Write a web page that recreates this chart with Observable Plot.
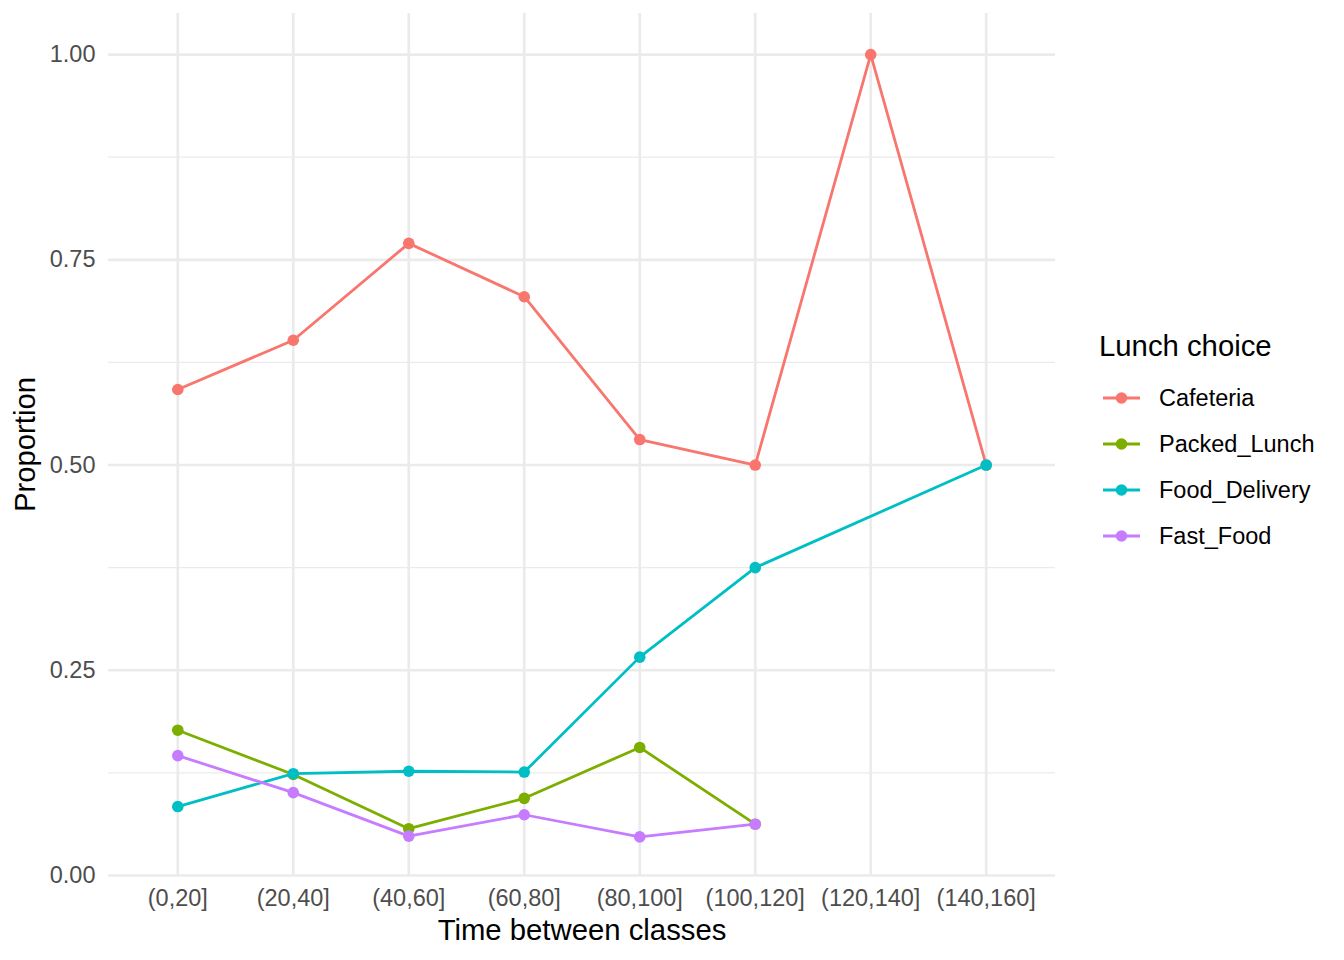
<!DOCTYPE html>
<html>
<head>
<meta charset="utf-8">
<script src="https://cdn.jsdelivr.net/npm/d3@7"></script>
<script src="https://cdn.jsdelivr.net/npm/@observablehq/plot@0.6"></script>
<style>
  html, body { margin: 0; padding: 0; background: #fff; }
  #wrap { position: relative; width: 1344px; height: 960px; font-family: "Liberation Sans", Arial, Helvetica, sans-serif; }
  #legend { position: absolute; left: 1099px; top: 328px; color: #000; }
  #legend .title { font-size: 29.3px; line-height: 36px; margin-bottom: 11px; }
  #legend .item { display: flex; align-items: center; height: 46px; }
  #legend .item span { font-size: 23.5px; margin-left: 18px; }
</style>
</head>
<body>
<div id="wrap"><div id="chart"></div><div id="legend"></div></div>
<script>
const categories = ["(0,20]", "(20,40]", "(40,60]", "(60,80]", "(80,100]", "(100,120]", "(120,140]", "(140,160]"];
const seriesNames = ["Cafeteria", "Packed_Lunch", "Food_Delivery", "Fast_Food"];
const seriesColors = ["#F8766D", "#7CAE00", "#00BFC4", "#C77CFF"];
const cafeteria    = [0.592, 0.652, 0.770, 0.705, 0.531, 0.500, 1.000, 0.500];
const packedLunch  = [0.177, 0.123, 0.057, 0.094, 0.156, 0.0625, null, null];
const foodDelivery = [0.084, 0.124, 0.127, 0.126, 0.266, 0.375, null, 0.500];
const fastFood     = [0.146, 0.101, 0.048, 0.074, 0.047, 0.0625, null, null];
const yTicks = [0, 0.25, 0.5, 0.75, 1];
const yMinorTicks = [0.125, 0.375, 0.625, 0.875];
const xTitle = "Time between classes";
const yTitle = "Proportion";
const legendTitle = "Lunch choice";

const seriesValues = [cafeteria, packedLunch, foodDelivery, fastFood];
const rows = [];
seriesNames.forEach((name, i) => {
  seriesValues[i].forEach((v, j) => {
    if (v !== null) rows.push({series: name, time: categories[j], value: v});
  });
});

const grid = "#EBEBEB";
const chart = Plot.plot({
  width: 1344,
  height: 960,
  marginLeft: 108,
  marginRight: 289,
  marginTop: 13,
  marginBottom: 85,
  style: {fontFamily: "'Liberation Sans', Arial, Helvetica, sans-serif", color: "#4D4D4D", background: "#fff"},
  x: {type: "point", domain: categories, padding: 0.6, round: false},
  y: {domain: [0, 1.05]},
  color: {domain: seriesNames, range: seriesColors},
  marks: [
    Plot.ruleY(yMinorTicks, {stroke: grid, strokeWidth: 1.4}),
    Plot.ruleY(yTicks, {stroke: grid, strokeWidth: 2.7}),
    Plot.ruleX(categories, {stroke: grid, strokeWidth: 2.7}),
    Plot.axisY({ticks: yTicks, tickFormat: d3.format(".2f"), tickSize: 0, tickPadding: 13, fontSize: 23.5, label: null}),
    Plot.axisX({tickSize: 0, tickPadding: 14, fontSize: 23.5, label: null}),
    Plot.line(rows, {x: "time", y: "value", z: "series", stroke: "series", strokeWidth: 2.8}),
    Plot.dot(rows, {x: "time", y: "value", fill: "series", r: 5.8, stroke: null}),
    Plot.text([xTitle], {frameAnchor: "bottom", lineAnchor: "top", textAnchor: "middle", dy: 44, fontSize: 29.3, fill: "#000", text: d => d}),
    Plot.text([yTitle], {frameAnchor: "left", lineAnchor: "top", textAnchor: "middle", rotate: -90, dx: -94, fontSize: 29.3, fill: "#000", text: d => d})
  ]
});
document.getElementById("chart").appendChild(chart);

// Legend
const legend = document.getElementById("legend");
const t = document.createElement("div");
t.className = "title";
t.textContent = legendTitle;
legend.appendChild(t);
seriesNames.forEach((name, i) => {
  const item = document.createElement("div");
  item.className = "item";
  item.innerHTML = `<svg width="42" height="46"><line x1="4" x2="41" y1="23" y2="23" stroke="${seriesColors[i]}" stroke-width="2.8"/><circle cx="22.5" cy="23" r="5.8" fill="${seriesColors[i]}"/></svg><span>${name}</span>`;
  legend.appendChild(item);
});
</script>
</body>
</html>
